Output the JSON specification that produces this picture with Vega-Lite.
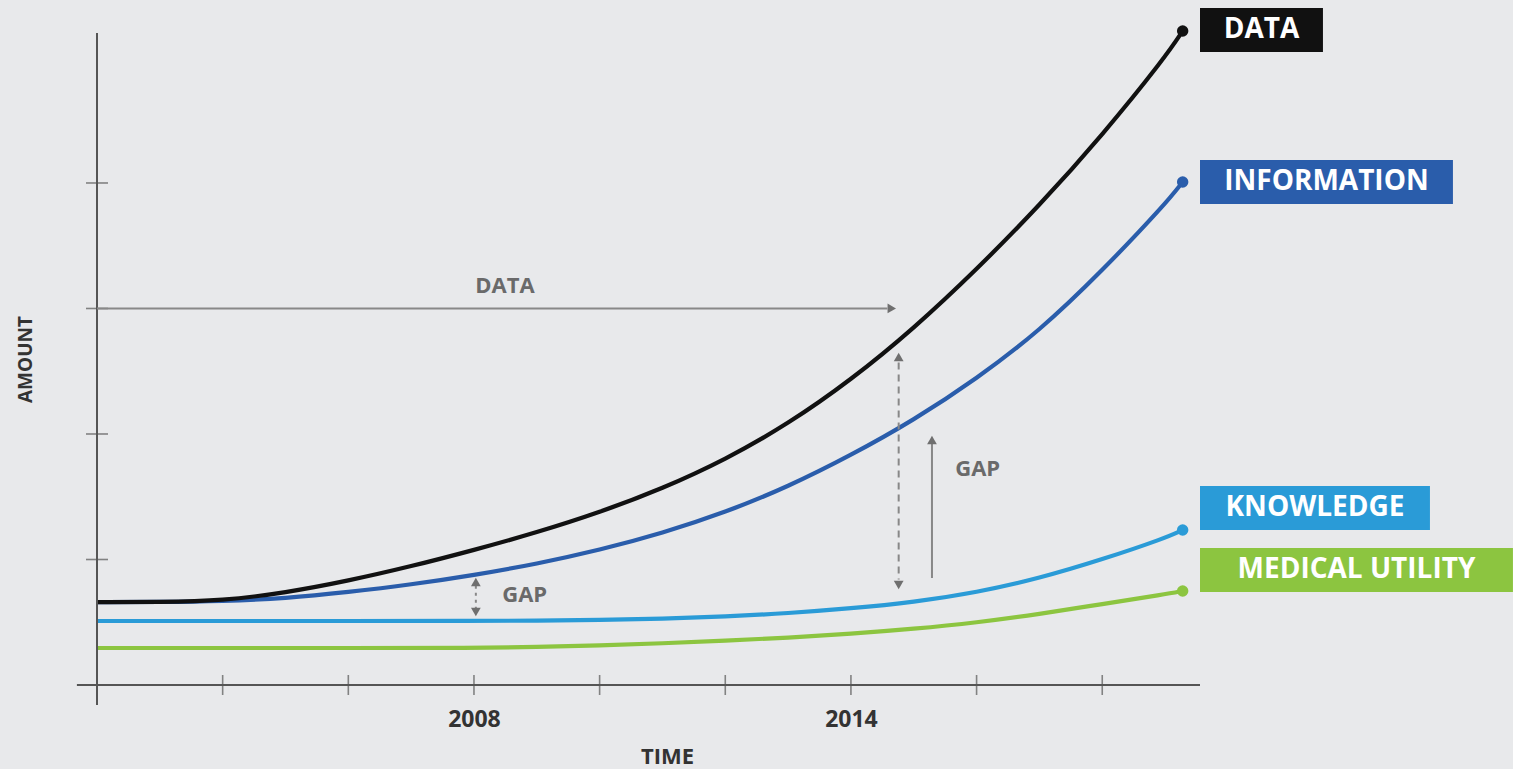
{
  "$schema": "https://vega.github.io/schema/vega-lite/v6.json",
  "width": 1103,
  "height": 652,
  "autosize": {"type": "none"},
  "padding": {"left": 97, "top": 33, "right": 313, "bottom": 84},
  "background": "#e8e9eb",
  "config": {
    "view": {"stroke": null},
    "font": "Open Sans",
    "axis": {"domain": false, "ticks": false, "grid": false, "labelFontWeight": "bold", "labelColor": "#333333", "titleFontWeight": "bold", "titleColor": "#333333"}
  },
  "datasets": {
    "series": [
      {"series": "MEDICAL UTILITY", "year": 2002, "amount": 0.295},
      {"series": "MEDICAL UTILITY", "year": 2004, "amount": 0.295},
      {"series": "MEDICAL UTILITY", "year": 2006, "amount": 0.295},
      {"series": "MEDICAL UTILITY", "year": 2008, "amount": 0.295},
      {"series": "MEDICAL UTILITY", "year": 2009, "amount": 0.302},
      {"series": "MEDICAL UTILITY", "year": 2010, "amount": 0.315},
      {"series": "MEDICAL UTILITY", "year": 2011, "amount": 0.332},
      {"series": "MEDICAL UTILITY", "year": 2012, "amount": 0.352},
      {"series": "MEDICAL UTILITY", "year": 2013, "amount": 0.377},
      {"series": "MEDICAL UTILITY", "year": 2014, "amount": 0.408},
      {"series": "MEDICAL UTILITY", "year": 2015, "amount": 0.447},
      {"series": "MEDICAL UTILITY", "year": 2016, "amount": 0.497},
      {"series": "MEDICAL UTILITY", "year": 2017, "amount": 0.565},
      {"series": "MEDICAL UTILITY", "year": 2018, "amount": 0.645},
      {"series": "MEDICAL UTILITY", "year": 2019, "amount": 0.722},
      {"series": "MEDICAL UTILITY", "year": 2019.28, "amount": 0.749},
      {"series": "KNOWLEDGE", "year": 2002, "amount": 0.51},
      {"series": "KNOWLEDGE", "year": 2004, "amount": 0.51},
      {"series": "KNOWLEDGE", "year": 2006, "amount": 0.51},
      {"series": "KNOWLEDGE", "year": 2008, "amount": 0.51},
      {"series": "KNOWLEDGE", "year": 2009, "amount": 0.512},
      {"series": "KNOWLEDGE", "year": 2010, "amount": 0.518},
      {"series": "KNOWLEDGE", "year": 2011, "amount": 0.528},
      {"series": "KNOWLEDGE", "year": 2012, "amount": 0.545},
      {"series": "KNOWLEDGE", "year": 2013, "amount": 0.572},
      {"series": "KNOWLEDGE", "year": 2014, "amount": 0.61},
      {"series": "KNOWLEDGE", "year": 2015, "amount": 0.66},
      {"series": "KNOWLEDGE", "year": 2016, "amount": 0.737},
      {"series": "KNOWLEDGE", "year": 2017, "amount": 0.85},
      {"series": "KNOWLEDGE", "year": 2018, "amount": 1.0},
      {"series": "KNOWLEDGE", "year": 2019, "amount": 1.17},
      {"series": "KNOWLEDGE", "year": 2019.28, "amount": 1.235},
      {"series": "INFORMATION", "year": 2002, "amount": 0.661},
      {"series": "INFORMATION", "year": 2003, "amount": 0.661},
      {"series": "INFORMATION", "year": 2004, "amount": 0.668},
      {"series": "INFORMATION", "year": 2005, "amount": 0.69},
      {"series": "INFORMATION", "year": 2006, "amount": 0.74},
      {"series": "INFORMATION", "year": 2007, "amount": 0.8},
      {"series": "INFORMATION", "year": 2008, "amount": 0.875},
      {"series": "INFORMATION", "year": 2009, "amount": 0.965},
      {"series": "INFORMATION", "year": 2010, "amount": 1.075},
      {"series": "INFORMATION", "year": 2011, "amount": 1.21},
      {"series": "INFORMATION", "year": 2012, "amount": 1.375},
      {"series": "INFORMATION", "year": 2013, "amount": 1.58},
      {"series": "INFORMATION", "year": 2014, "amount": 1.83},
      {"series": "INFORMATION", "year": 2015, "amount": 2.11},
      {"series": "INFORMATION", "year": 2016, "amount": 2.44},
      {"series": "INFORMATION", "year": 2017, "amount": 2.82},
      {"series": "INFORMATION", "year": 2018, "amount": 3.3},
      {"series": "INFORMATION", "year": 2019, "amount": 3.83},
      {"series": "INFORMATION", "year": 2019.28, "amount": 4.008},
      {"series": "DATA", "year": 2002, "amount": 0.661},
      {"series": "DATA", "year": 2003, "amount": 0.661},
      {"series": "DATA", "year": 2004, "amount": 0.672},
      {"series": "DATA", "year": 2005, "amount": 0.735},
      {"series": "DATA", "year": 2006, "amount": 0.83},
      {"series": "DATA", "year": 2007, "amount": 0.945},
      {"series": "DATA", "year": 2008, "amount": 1.075},
      {"series": "DATA", "year": 2009, "amount": 1.215},
      {"series": "DATA", "year": 2010, "amount": 1.375},
      {"series": "DATA", "year": 2011, "amount": 1.565},
      {"series": "DATA", "year": 2012, "amount": 1.795},
      {"series": "DATA", "year": 2013, "amount": 2.08},
      {"series": "DATA", "year": 2014, "amount": 2.43},
      {"series": "DATA", "year": 2015, "amount": 2.84},
      {"series": "DATA", "year": 2016, "amount": 3.31},
      {"series": "DATA", "year": 2017, "amount": 3.82},
      {"series": "DATA", "year": 2018, "amount": 4.38},
      {"series": "DATA", "year": 2019, "amount": 5.0},
      {"series": "DATA", "year": 2019.28, "amount": 5.211}
    ],
    "boxes": [
      {"series": "DATA", "x0": 2019.556, "x1": 2021.513, "top": 5.394, "bottom": 5.044},
      {"series": "INFORMATION", "x0": 2019.556, "x1": 2023.582, "top": 4.183, "bottom": 3.833},
      {"series": "KNOWLEDGE", "x0": 2019.556, "x1": 2023.216, "top": 1.586, "bottom": 1.235},
      {"series": "MEDICAL UTILITY", "x0": 2019.556, "x1": 2024.537, "top": 1.092, "bottom": 0.741}
    ],
    "axislines": [
      {"x": 2001.68, "x2": 2019.556, "y": 0, "y2": 0},
      {"x": 2002, "x2": 2002, "y": -0.16, "y2": 5.195}
    ],
    "xticks": [
      {"year": 2004}, {"year": 2006}, {"year": 2008}, {"year": 2010},
      {"year": 2012}, {"year": 2014}, {"year": 2016}, {"year": 2018}
    ],
    "yticks": [
      {"amount": 1}, {"amount": 2}, {"amount": 3}, {"amount": 4}
    ],
    "arrows": [
      {"kind": "solid", "x": 2002, "x2": 2014.58, "y": 3.0, "y2": 3.0},
      {"kind": "dashed", "x": 2014.76, "x2": 2014.76, "y": 2.57, "y2": 0.84},
      {"kind": "solid", "x": 2015.29, "x2": 2015.29, "y": 0.853, "y2": 1.92},
      {"kind": "dotted", "x": 2008.03, "x2": 2008.03, "y": 0.79, "y2": 0.61}
    ],
    "heads": [
      {"dir": "right", "x": 2014.65, "y": 3.0},
      {"dir": "up", "x": 2014.76, "y": 2.614},
      {"dir": "down", "x": 2014.76, "y": 0.797},
      {"dir": "up", "x": 2015.29, "y": 1.952},
      {"dir": "up", "x": 2008.03, "y": 0.821},
      {"dir": "down", "x": 2008.03, "y": 0.582}
    ],
    "notes": [
      {"text": "DATA", "x": 2008.02, "y": 3.183},
      {"text": "GAP", "x": 2008.45, "y": 0.717},
      {"text": "GAP", "x": 2015.66, "y": 1.725}
    ]
  },
  "layer": [
    {
      "data": {"name": "series"},
      "mark": {"type": "line", "strokeWidth": 4.2, "interpolate": "basis"},
      "encoding": {
        "x": {"field": "year", "type": "quantitative", "title": "TIME", "scale": {"domain": [2002, 2019.556], "nice": false, "zero": false},
          "axis": {"values": [2008, 2014], "labelFontSize": 23, "labelPadding": 23, "format": "d", "titleFontSize": 22, "titlePadding": 15, "titleX": 570}},
        "y": {"field": "amount", "type": "quantitative", "title": "AMOUNT", "scale": {"domain": [0, 5.195], "nice": false, "zero": false},
          "axis": {"labels": false, "titleFontSize": 19, "titlePadding": 62}},
        "color": {"field": "series", "type": "nominal", "legend": null, "sort": null,
          "scale": {"domain": ["DATA", "INFORMATION", "KNOWLEDGE", "MEDICAL UTILITY"], "range": ["#111111", "#2a5dab", "#2a9bd7", "#8cc540"]}}
      }
    },
    {
      "data": {"name": "axislines"},
      "mark": {"type": "rule", "color": "#555555", "strokeWidth": 2},
      "encoding": {
        "x": {"field": "x", "type": "quantitative"},
        "x2": {"field": "x2"},
        "y": {"field": "y", "type": "quantitative"},
        "y2": {"field": "y2"}
      }
    },
    {
      "data": {"name": "xticks"},
      "mark": {"type": "tick", "orient": "vertical", "size": 20, "thickness": 1.6, "color": "#555555"},
      "encoding": {
        "x": {"field": "year", "type": "quantitative"},
        "y": {"datum": 0, "type": "quantitative"}
      }
    },
    {
      "data": {"name": "yticks"},
      "mark": {"type": "tick", "orient": "horizontal", "size": 22, "thickness": 1.6, "color": "#555555"},
      "encoding": {
        "x": {"datum": 2002, "type": "quantitative"},
        "y": {"field": "amount", "type": "quantitative"}
      }
    },
    {
      "data": {"name": "arrows"},
      "mark": {"type": "rule", "color": "#888888", "strokeWidth": 2},
      "encoding": {
        "x": {"field": "x", "type": "quantitative"},
        "x2": {"field": "x2"},
        "y": {"field": "y", "type": "quantitative"},
        "y2": {"field": "y2"},
        "strokeDash": {"field": "kind", "type": "nominal", "legend": null,
          "scale": {"domain": ["solid", "dashed", "dotted"], "range": [[1, 0], [7, 5], [3, 4]]}}
      }
    },
    {
      "data": {"name": "heads"},
      "mark": {"type": "point", "filled": true, "size": 95, "color": "#6f6f6f", "opacity": 1},
      "encoding": {
        "x": {"field": "x", "type": "quantitative"},
        "y": {"field": "y", "type": "quantitative"},
        "shape": {"field": "dir", "type": "nominal", "legend": null,
          "scale": {"domain": ["up", "down", "right"], "range": ["triangle-up", "triangle-down", "triangle-right"]}}
      }
    },
    {
      "data": {"name": "notes"},
      "mark": {"type": "text", "align": "left", "baseline": "middle", "fontSize": 22, "fontWeight": "bold", "color": "#6a6a6a"},
      "encoding": {
        "x": {"field": "x", "type": "quantitative"},
        "y": {"field": "y", "type": "quantitative"},
        "text": {"field": "text"}
      }
    },
    {
      "data": {"name": "series"},
      "transform": [{"filter": "datum.year == 2019.28"}],
      "mark": {"type": "point", "filled": true, "size": 130, "opacity": 1},
      "encoding": {
        "x": {"field": "year", "type": "quantitative"},
        "y": {"field": "amount", "type": "quantitative"},
        "color": {"field": "series", "type": "nominal", "legend": null}
      }
    },
    {
      "data": {"name": "boxes"},
      "mark": {"type": "rect"},
      "encoding": {
        "x": {"field": "x0", "type": "quantitative"},
        "x2": {"field": "x1"},
        "y": {"field": "top", "type": "quantitative"},
        "y2": {"field": "bottom"},
        "color": {"field": "series", "type": "nominal", "legend": null}
      }
    },
    {
      "data": {"name": "boxes"},
      "transform": [
        {"calculate": "(datum.x0 + datum.x1) / 2", "as": "mid"},
        {"calculate": "(datum.top + datum.bottom) / 2", "as": "center"}
      ],
      "mark": {"type": "text", "align": "center", "baseline": "middle", "fontSize": 28, "fontWeight": "bold", "color": "#ffffff"},
      "encoding": {
        "x": {"field": "mid", "type": "quantitative"},
        "y": {"field": "center", "type": "quantitative"},
        "text": {"field": "series"}
      }
    }
  ]
}
